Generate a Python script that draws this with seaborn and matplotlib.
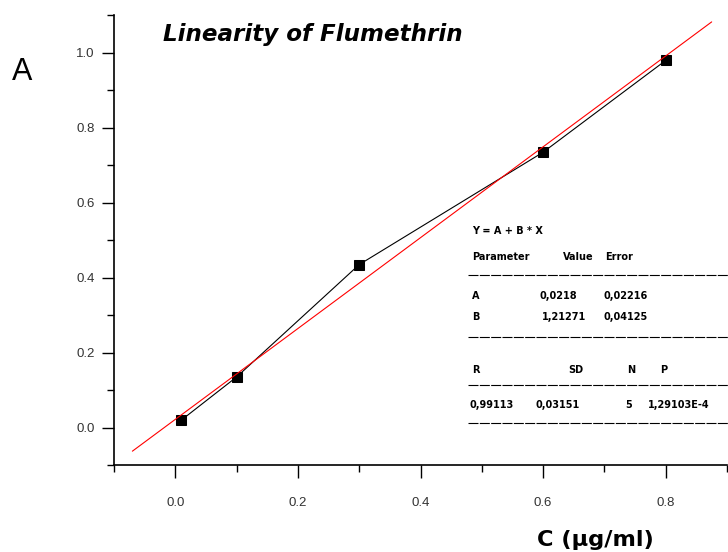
import numpy as np
import pandas as pd
import seaborn as sns
import matplotlib.pyplot as plt
from matplotlib.lines import Line2D
from matplotlib.ticker import MultipleLocator

# measured points
conc = [0.01, 0.1, 0.3, 0.6, 0.8]
absorb = [0.02, 0.135, 0.435, 0.735, 0.98]

# linear fit parameters from the inset table
fit_a = 0.0218
fit_b = 1.21271
fit_range = [-0.07, 0.875]

sns.set_style("ticks")
plt.rcParams['font.family'] = ['Liberation Sans', 'DejaVu Sans']

W, H = 728, 552
fig = plt.figure(figsize=(W / 100, H / 100), dpi=100)
ax = fig.add_axes([114 / W, 1 - 465 / H, (727 - 114) / W, (465 - 15.5) / H])

df = pd.DataFrame({"C": conc, "A": absorb})
sns.lineplot(data=df, x="C", y="A", ax=ax, color="black", linewidth=0.8,
             marker="s", markersize=6.5, markeredgecolor="black")

fit_df = pd.DataFrame({"C": fit_range})
fit_df["A"] = fit_a + fit_b * fit_df["C"]
sns.lineplot(data=fit_df, x="C", y="A", ax=ax, color="red", linewidth=0.8)

ax.set_xlim(-0.1, 0.9)
ax.set_ylim(-0.1, 1.1)
ax.set_xticks([0.0, 0.2, 0.4, 0.6, 0.8])
ax.set_yticks([0.0, 0.2, 0.4, 0.6, 0.8, 1.0])
ax.xaxis.set_minor_locator(MultipleLocator(0.1))
ax.yaxis.set_minor_locator(MultipleLocator(0.1))
ax.tick_params(which="major", length=9, width=1, labelsize=9.5, labelcolor="#333333", color="black")
ax.tick_params(which="minor", length=5, width=1, color="black")
ax.tick_params(axis="x", which="major", pad=14)
ax.tick_params(axis="y", which="major", pad=5)
ax.set_xlabel("")
ax.set_ylabel("")
sns.despine(ax=ax)
for s in ["left", "bottom"]:
    ax.spines[s].set_linewidth(1.2)
    ax.spines[s].set_color("black")


def px(x, y):
    return x / W, 1 - y / H


fig.text(*px(163, 35), "Linearity of Flumethrin", fontsize=16.6, fontweight="bold",
         fontstyle="italic", va="center", ha="left", color="black", family="DejaVu Sans")
fig.text(*px(12, 72), "A", fontsize=22, va="center", ha="left", color="black")
fig.text(*px(537, 540), "C (\u03bcg/ml)", fontsize=16.2, fontweight="bold", va="center",
         ha="left", color="black", family="DejaVu Sans")

# inset fit table
small = dict(fontsize=7, fontweight="bold", va="center", ha="left", color="black",
             family="DejaVu Sans")
cells = [
    (472, 231, "Y = A + B * X"),
    (472, 257, "Parameter"), (563, 257, "Value"), (605, 257, "Error"),
    (472, 296, "A"), (540, 296, "0,0218"), (603, 296, "0,02216"),
    (472, 317, "B"), (542, 317, "1,21271"), (603, 317, "0,04125"),
    (472, 370, "R"), (568, 370, "SD"), (627, 370, "N"), (660, 370, "P"),
    (470, 405, "0,99113"), (535, 405, "0,03151"), (625, 405, "5"), (648, 405, "1,29103E-4"),
]
for x, y, t in cells:
    fig.text(*px(x, y), t, **small)

for y in [275, 337, 385, 423]:
    fig.add_artist(Line2D([468 / W, 1.0], [1 - y / H, 1 - y / H], color="black",
                          linewidth=0.8, linestyle=(0, (9, 1.2))))

fig.savefig("out.png", dpi=100)
